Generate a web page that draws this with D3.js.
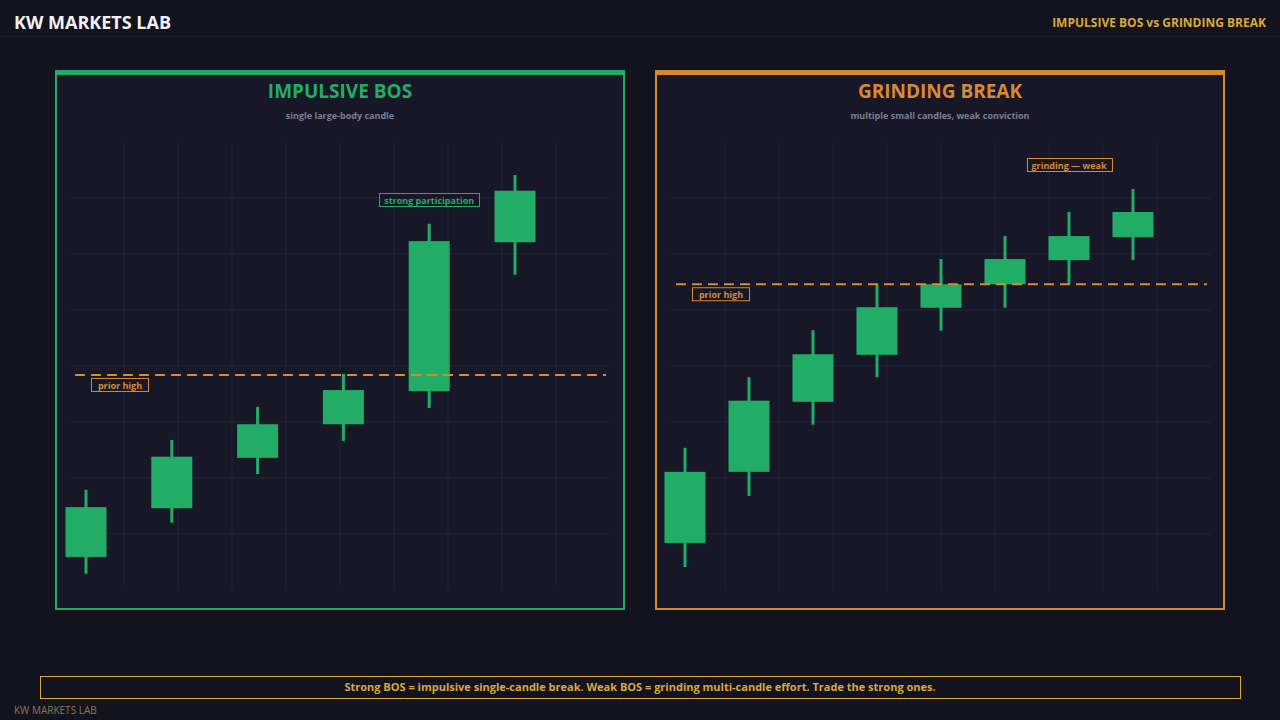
<!DOCTYPE html>
<html><head><meta charset="utf-8">
<script src="https://cdn.jsdelivr.net/npm/d3@7"></script>
<style>body{margin:0;background:#13131f;}svg{display:block;font-family:"Open Sans","Noto Sans",sans-serif;}</style>
</head><body>
<svg id="c" width="1280" height="720"></svg>
<script>
// Data (price in grid units)
const leftOpen  = [0.59,1.46,2.36,2.96,3.55,6.21];
const leftClose = [1.48,2.38,2.96,3.57,6.23,7.13];
const leftHigh  = [1.79,2.68,3.27,3.86,6.54,7.41];
const leftLow   = [0.29,1.20,2.07,2.66,3.25,5.63];
const leftPrior = 3.84;
const rightOpen  = [0.84,2.11,3.36,4.20,5.04,5.46,5.89,6.30];
const rightClose = [2.11,3.38,4.21,5.05,5.46,5.91,6.32,6.75];
const rightHigh  = [2.54,3.80,4.64,5.46,5.91,6.32,6.75,7.16];
const rightLow   = [0.41,1.68,2.95,3.80,4.63,5.04,5.46,5.89];
const rightPrior = 5.46;
const titles = ["IMPULSIVE BOS","GRINDING BREAK"];
const subtitles = ["single large-body candle","multiple small candles, weak conviction"];
const notes = ["strong participation","grinding — weak"];

const GREEN="#22ad66", ORANGE="#d68a32", GOLD="#d9a93a";
const svg=d3.select("#c");
svg.append("rect").attr("width",1280).attr("height",720).attr("fill","#13131f");
svg.append("text").attr("x",14).attr("y",29).attr("fill","#f2f2f2").attr("font-size",18).attr("font-weight","bold").text("KW MARKETS LAB");
svg.append("text").attr("x",1266).attr("y",27).attr("text-anchor","end").attr("fill",GOLD).attr("font-size",12).attr("font-weight","bold").text("IMPULSIVE BOS vs GRINDING BREAK");
svg.append("line").attr("x1",0).attr("x2",1280).attr("y1",36.5).attr("y2",36.5).attr("stroke","#25253a");

function panel(px, color, o, c, h, l, prior, title, sub, note, xr, noteIdx, noteDy, plotL, plotR){
  const g=svg.append("g");
  g.append("rect").attr("x",px+1).attr("y",71).attr("width",568).attr("height",538).attr("fill","#171727").attr("stroke",color).attr("stroke-width",2);
  g.append("rect").attr("x",px).attr("y",70).attr("width",570).attr("height",5).attr("fill",color);
  g.append("text").attr("x",px+285).attr("y",98).attr("text-anchor","middle").attr("fill",color).attr("font-size",19).attr("font-weight","bold").text(title);
  g.append("text").attr("x",px+285).attr("y",119).attr("text-anchor","middle").attr("fill","#7d7d90").attr("font-size",9).attr("font-weight","bold").text(sub);
  const y=d3.scaleLinear().domain([0,8]).range([590,142]);
  const gx=d3.scaleLinear().domain([0,10]).range([plotL,plotR]);
  g.selectAll(".hg").data(d3.range(1,8)).join("line").attr("x1",plotL).attr("x2",plotR).attr("y1",d=>y(d)).attr("y2",d=>y(d)).attr("stroke","#25253a");
  g.selectAll(".vg").data(d3.range(1,10)).join("line").attr("y1",142).attr("y2",590).attr("x1",d=>gx(d)).attr("x2",d=>gx(d)).attr("stroke","#22223a");
  const x=d3.scaleLinear().domain([0,o.length-1]).range(xr);
  const idx=d3.range(o.length);
  g.selectAll(".w").data(idx).join("line").attr("x1",i=>x(i)).attr("x2",i=>x(i)).attr("y1",i=>y(h[i])).attr("y2",i=>y(l[i])).attr("stroke",GREEN).attr("stroke-width",3);
  g.selectAll(".b").data(idx).join("rect").attr("x",i=>x(i)-20.5).attr("width",41).attr("y",i=>y(Math.max(o[i],c[i]))).attr("height",i=>Math.abs(y(o[i])-y(c[i]))).attr("fill",GREEN);
  g.append("line").attr("x1",plotL+5).attr("x2",plotR-4).attr("y1",y(prior)).attr("y2",y(prior)).attr("stroke",ORANGE).attr("stroke-width",2).attr("stroke-dasharray","10,6");
  const pl=g.append("g");
  pl.append("rect").attr("x",plotL+21.5).attr("y",y(prior)+3.5).attr("width",57).attr("height",13).attr("fill","#171727").attr("stroke",ORANGE);
  pl.append("text").attr("x",plotL+50).attr("y",y(prior)+14).attr("text-anchor","middle").attr("fill",ORANGE).attr("font-size",9).attr("font-weight","bold").text("prior high");
  const nc=color;
  const ny=noteDy, nx=x(noteIdx);
  const ng=g.append("g");
  const t=ng.append("text").attr("x",nx).attr("y",ny+10).attr("text-anchor","middle").attr("fill",nc).attr("font-size",9).attr("font-weight","bold").text(note);
  const bb=t.node().getBBox();
  ng.append("rect").attr("x",Math.round(bb.x-5)+.5).attr("y",ny-.5).attr("width",Math.round(bb.width+10)).attr("height",13).attr("fill","#171727").attr("stroke",nc);
  t.raise();
}
panel(55,GREEN,leftOpen,leftClose,leftHigh,leftLow,leftPrior,titles[0],subtitles[0],notes[0],[86,515],4,194,70,610);
panel(655,ORANGE,rightOpen,rightClose,rightHigh,rightLow,rightPrior,titles[1],subtitles[1],notes[1],[685,1133],6,159,671,1211);

svg.append("rect").attr("x",40.5).attr("y",676.5).attr("width",1200).attr("height",22).attr("fill","#13131f").attr("stroke",GOLD);
svg.append("text").attr("x",640).attr("y",691).attr("text-anchor","middle").attr("fill",GOLD).attr("font-size",11).attr("font-weight","bold").text("Strong BOS = impulsive single-candle break. Weak BOS = grinding multi-candle effort. Trade the strong ones.");
svg.append("text").attr("x",14).attr("y",714).attr("fill","#8a7a50").attr("font-size",10).text("KW MARKETS LAB");
</script>
</body></html>
